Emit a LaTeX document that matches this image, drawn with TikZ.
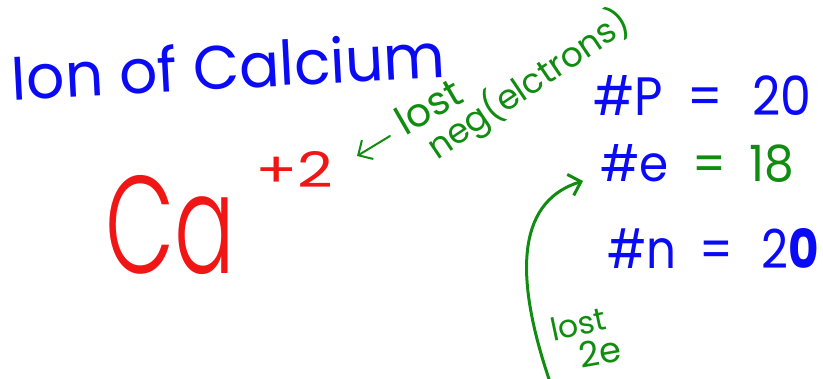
\documentclass[tikz,border=0pt]{standalone}
\usepackage{fontspec}
\setmainfont{Poppins}
\newfontfamily\lightink{Poppins Light}
\usetikzlibrary{arrows.meta}
\definecolor{inkblue}{RGB}{10,10,245}
\definecolor{inkred}{RGB}{240,22,22}
\definecolor{inkgreen}{RGB}{16,140,16}
\begin{document}
\begin{tikzpicture}[x=1pt,y=-1pt,
  ink/.style={inner sep=0pt, outer sep=0pt},
  blueink/.style={ink, text=inkblue},
  redink/.style={ink, text=inkred},
  greenink/.style={ink, text=inkgreen},
  greenarrow/.style={draw=inkgreen, line width=#1, line cap=round, line join=round,
    -{Straight Barb[length=11pt,width=22pt,line width=#1]}}]
\useasboundingbox (0,0) rectangle (823,378);
% title
\node[blueink, anchor=base west, rotate=3] (title) at (13,100)
  {\resizebox{434pt}{47pt}{Ion of Calcium}};
% Ca +2
\node[redink, anchor=base west] (ca) at (105,273) {\resizebox{130pt}{98pt}{\lightink Ca}};
\node[redink, anchor=base west] (charge) at (255,187) {\resizebox{78pt}{36pt}{+2}};
% green note
\node[greenink, anchor=base west, rotate=30] (lost1) at (405,136) {\resizebox{70pt}{!}{lost}};
\node[greenink, anchor=base west, rotate=34] (neg) at (437,160) {\resizebox{236pt}{!}{neg(elctrons)}};
\coordinate (a1) at (390,136);
\coordinate (a2) at (357,156);
\draw[greenarrow=2pt] (a1) -- (a2);
% counts
\node[blueink, anchor=base west] (p) at (593,115)
  {\resizebox{218pt}{40pt}{\#P\hspace{0.5em}=\hspace{0.6em}20}};
\node[blueink, anchor=base west] (e) at (600,181)
  {\resizebox{194pt}{37pt}{\#e\hspace{0.5em}\textcolor{inkgreen}{=\hspace{0.5em}18}}};
\node[blueink, anchor=base west] (n) at (607,268)
  {\resizebox{212pt}{40pt}{\#n\hspace{0.5em}=\hspace{0.6em}2\textbf{0}}};
% curved arrow
\coordinate (c0) at (550,382);
\coordinate (c1) at (583,181);
\draw[greenarrow=3pt] (c0) .. controls (510,265) and (522,200) .. (c1);
\node[greenink, rotate=12] (lost2) at (578,324) {\resizebox{56pt}{!}{lost}};
\node[greenink, rotate=10] (twoe) at (600,352) {\resizebox{42pt}{!}{2e}};
\end{tikzpicture}
\end{document}
